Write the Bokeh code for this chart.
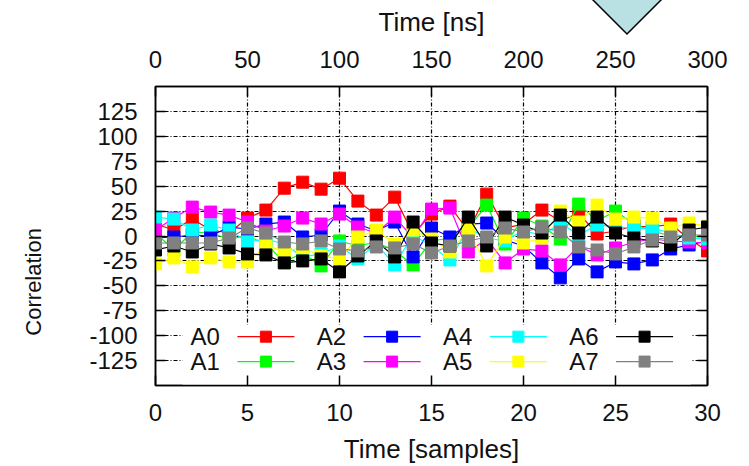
from bokeh.plotting import figure
from bokeh.models import Range1d, LinearAxis, FixedTicker, Div
from bokeh.layouts import column
from bokeh.core.properties import value
from bokeh.embed import file_html
from bokeh.resources import INLINE

# ---------------- data ----------------
samples = list(range(31))
A0 = [12, 6, 17, 6, 3, 18, 26, 48, 54, 47, 58, 35, 21, 39, 2, 22, 30, 5, 42, 8, 12, 26, 15, 23, 2, 5, 10, 9, 12, -3, -15]
A1 = [3, -14, 4, 3, -3, 0, -8, -26, -17, -30, -5, -10, -6, -15, -29, -5, -2, 8, 31, -8, 18, 10, -3, 32, 15, 25, 12, 5, 0, -2, 2]
A2 = [-2, -1, 1, 0, 9, 7, 12, 14, -1, 1, 25, 12, 5, 14, -21, 8, -1, 12, 13, -4, -10, -27, -42, -23, -36, -26, -28, -24, -13, -9, -5]
A3 = [6, 18, 29, 24, 21, 14, 5, 10, 18, 12, 22, 9, 3, 19, -2, 27, 28, -16, -3, -27, -13, -15, -29, -10, -19, -12, -6, -3, -5, -6, -7]
A4 = [19, 17, 6, 11, 6, -6, -3, -8, -21, -18, -10, -23, -8, -29, 1, -10, -24, 8, -2, -5, 6, 0, 13, 1, 11, 10, 7, 8, 3, -2, -3]
A5 = [-28, -22, -31, -22, -26, -26, -10, -15, -12, -20, -23, -1, 6, -8, 6, -3, -16, 6, -30, -1, -7, -2, 25, 14, 31, 17, 19, 18, 8, 13, 10]
A6 = [-14, -10, -16, -8, -12, -18, -19, -27, -25, -23, -36, -20, -5, -21, 14, -7, -10, 19, -10, 19, 11, 3, 21, 3, 19, 3, -2, -5, -9, 6, 9]
A7 = [-7, -7, -7, -7, -2, 8, 3, -6, -8, -5, -13, -15, -11, -12, -8, -17, -10, -5, -1, 8, 4, 9, 4, -11, -14, -18, -11, -4, -1, 1, 1]

series_names = ["A0", "A1", "A2", "A3", "A4", "A5", "A6", "A7"]
series_values = [A0, A1, A2, A3, A4, A5, A6, A7]
series_colors = ["#ff0000", "#00ff00", "#0000ff", "#ff00ff", "#00ffff", "#ffff00", "#000000", "#808080"]

sample_ticks = [0, 5, 10, 15, 20, 25, 30]
ns_ticks = [0, 50, 100, 150, 200, 250, 300]
corr_ticks = [-125, -100, -75, -50, -25, 0, 25, 50, 75, 100, 125]

# ---------------- styling ----------------
FONT = "Liberation Sans"
TXT = "#111111"
TICK_FS = "24px"
TITLE_FS = "26px"
GRID_DASH = "4 2 1 2"
W, H = 749, 466

p = figure(width=W, height=H, output_backend="svg", toolbar_location=None,
           x_range=Range1d(0, 30), y_range=Range1d(-150, 150),
           min_border_left=155, min_border_right=42, min_border_top=86, min_border_bottom=80)
p.extra_x_ranges = {"ns": Range1d(0, 300)}
p.background_fill_color = "white"
p.border_fill_color = "white"
p.outline_line_color = "black"
p.outline_line_width = 1.5

def style_axis(ax, label_size=TICK_FS):
    ax.major_tick_in = 10
    ax.major_tick_out = 0
    ax.minor_tick_in = 0
    ax.minor_tick_out = 0
    ax.axis_line_color = "black"
    ax.axis_line_width = 1.5
    ax.major_tick_line_color = "black"
    ax.major_tick_line_width = 1.5
    ax.major_label_text_font = FONT
    ax.major_label_text_font_size = label_size
    ax.major_label_text_color = TXT
    ax.axis_label_text_font = FONT
    ax.axis_label_text_font_style = "normal"
    ax.axis_label_text_color = TXT

xax = p.xaxis[0]
xax.ticker = FixedTicker(ticks=sample_ticks)
xax.axis_label = "Time [samples]"
style_axis(xax)
xax.axis_label_text_font_size = TITLE_FS
xax.major_label_standoff = 18
xax.axis_label_standoff = 10

yax = p.yaxis[0]
yax.ticker = FixedTicker(ticks=corr_ticks)
yax.major_label_overrides = {t: str(t) for t in corr_ticks}   # plain hyphen minus, as in the original
# title sits below the axis centre in the original: pad its end with no-break spaces
yax.axis_label = "Correlation" + "\u00a0" * 15
style_axis(yax)
yax.axis_label_text_font_size = "22px"
yax.major_label_standoff = 18
yax.axis_label_standoff = 40

top = LinearAxis(x_range_name="ns", ticker=FixedTicker(ticks=ns_ticks), axis_label="Time [ns]")
style_axis(top)
top.axis_label_text_font_size = TITLE_FS
top.major_label_standoff = 19
top.axis_label_standoff = 11
p.add_layout(top, "above")

right = LinearAxis(ticker=FixedTicker(ticks=corr_ticks),
                   major_label_overrides={t: "" for t in corr_ticks})
style_axis(right)
p.add_layout(right, "right")

p.xgrid.ticker = FixedTicker(ticks=sample_ticks[1:-1])
p.ygrid.ticker = FixedTicker(ticks=corr_ticks)
for g in (p.xgrid, p.ygrid):
    g.grid_line_color = "black"
    g.grid_line_dash = GRID_DASH
    g.grid_line_width = 1.2
    g.grid_line_alpha = 1.0

# ---------------- series ----------------
for name, vals, color in zip(series_names, series_values, series_colors):
    p.line(samples, vals, color=color, line_width=1.2)
    p.scatter(samples, vals, marker="square", size=12, fill_color=color, line_color=color)

# ---------------- key (label followed by sample, gnuplot style) ----------------
KEY_BOX = (1.47, 29.1, -89, -150)
KEY_X0 = 3.5
KEY_DX = 6.86
KEY_ROWS = [-101, -126]
p.quad(left=[KEY_BOX[0]], right=[KEY_BOX[1]], top=[KEY_BOX[2]], bottom=[KEY_BOX[3]],
       fill_color="white", line_color=None)
for i, (name, color) in enumerate(zip(series_names, series_colors)):
    col, row = i // 2, i % 2
    lx = KEY_X0 + col * KEY_DX
    ly = KEY_ROWS[row]
    p.text(x=[lx], y=[ly], text=[name], text_align="right", text_baseline="middle",
           text_font=value(FONT), text_font_size="24px", text_color=TXT)
    p.line([lx + 0.95, lx + 4.05], [ly, ly], color=color, line_width=1.2)
    p.scatter([lx + 2.5], [ly], marker="square", size=11, fill_color=color, line_color=color)

# ---------------- decorative marker above the plot (overlay) ----------------
tri_html = (
    '<svg width="100" height="50" style="position:relative; left:570px; top:-%dpx; '
    'overflow:visible; display:block;" xmlns="http://www.w3.org/2000/svg">'
    '<polygon points="9,-10 95,-10 52,33" fill="#b9e1e4" stroke="black" stroke-width="1.5"/>'
    '</svg>' % (H + 4)
)
overlay = Div(text=tri_html, width=W, height=0, styles={"overflow": "visible"})

layout = column(p, overlay, spacing=0)
open("out.html", "w").write(file_html(layout, INLINE))
